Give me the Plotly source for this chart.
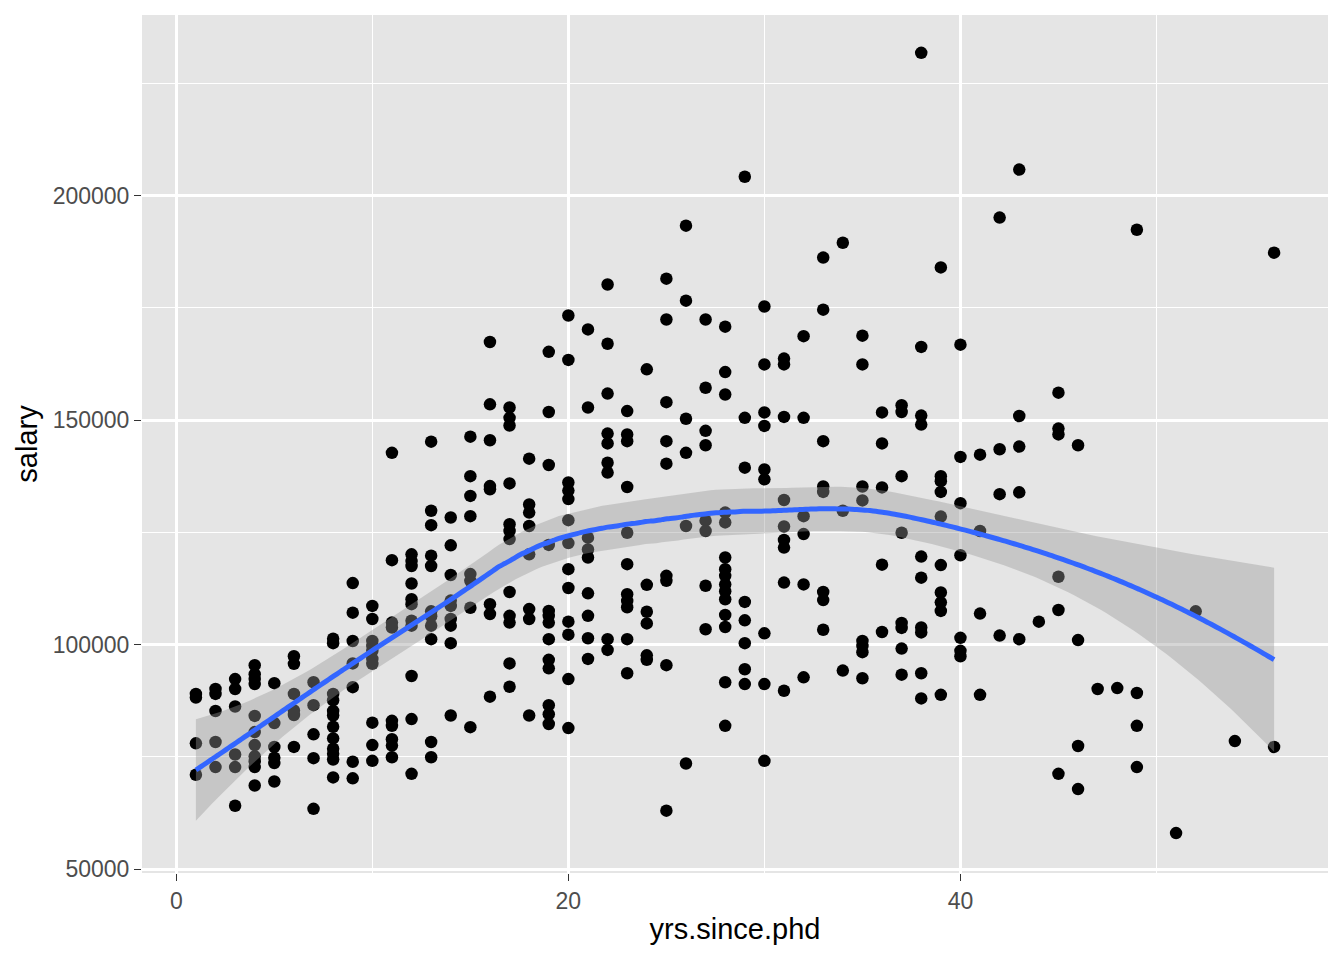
import numpy as np
import plotly.graph_objects as go

# Salary vs years since PhD (one line per year)
yrs_since_phd = (
    [1] * 4 + [2] * 5 + [3] * 6 + [4] * 11 + [5] * 6 + [6] * 6 + [7] * 5 + [8] * 12
    + [9] * 7 + [10] * 10 + [11] * 9 + [12] * 11 + [13] * 11 + [14] * 9 + [15] * 8
    + [16] * 8 + [17] * 12 + [18] * 8 + [19] * 13 + [20] * 13 + [21] * 9 + [22] * 9
    + [23] * 11 + [24] * 6 + [25] * 9 + [26] * 6 + [27] * 8 + [28] * 15 + [29] * 8
    + [30] * 9 + [31] * 9 + [32] * 6 + [33] * 8 + [34] * 3 + [35] * 8 + [36] * 5
    + [37] * 8 + [38] * 10 + [39] * 10 + [40] * 7 + [41] * 4 + [42] * 4 + [43] * 5
    + [44] * 1 + [45] * 6 + [46] * 4 + [47] * 1 + [48] * 1 + [49] * 4 + [51] * 1
    + [52] * 1 + [54] * 1 + [56] * 2
)

salary = [
    89000, 88200, 78000, 71000,
    90100, 89000, 85200, 78300, 72700,
    92300, 90100, 86200, 75500, 72700, 64100,
    95400, 93400, 92300, 91200, 84100, 80500, 77600, 75100, 74000, 72700, 68600,
    91400, 82500, 77200, 74800, 73600, 69500,
    97400, 95700, 89000, 85300, 84300, 77200,
    91600, 86500, 80000, 74700, 63400,
    101300, 100300, 89000, 87600, 85200, 84200, 81700, 79100, 76800, 75700, 74400, 70400,
    113700, 107100, 100800, 95800, 90500, 73900, 70200,
    108600, 105700, 100800, 99700, 98600, 96800, 95700, 82600, 77600, 74100,
    142700, 118800, 104900, 103800, 83000, 81900, 78900, 77500, 74900,
    120100, 118600, 117500, 113600, 110100, 109000, 105300, 104200, 93000, 83400, 71200,
    145200, 129800, 126600, 119800, 117500, 107400, 106300, 104200, 101200, 78300, 74900,
    128300, 122100, 115500, 109800, 108600, 105700, 104200, 100300, 84200,
    146300, 137500, 133100, 128600, 115700, 114200, 108200, 81600,
    167400, 153500, 145500, 135300, 134600, 109000, 106800, 88400,
    152800, 150500, 148800, 135900, 126800, 125300, 123500, 111700, 106400, 104900, 95800, 90600,
    141400, 131200, 129400, 126400, 120100, 107900, 105700, 84200,
    165200, 151800, 140000, 122200, 107500, 106400, 104900, 101200, 96600, 94700, 86500, 84500, 82300,
    173300, 163400, 136100, 134300, 132400, 127700, 122600, 116800, 112600, 105100, 102200, 92300, 81400,
    170200, 152800, 123800, 121200, 119400, 111400, 106400, 101400, 96800,
    180200, 167000, 155900, 147000, 144800, 140500, 138300, 101200, 98800,
    152000, 146800, 145300, 135100, 124900, 117900, 111200, 109700, 108300, 101200, 93600,
    161300, 113300, 107300, 104700, 97600, 96600,
    181500, 172400, 154000, 145300, 140300, 115300, 114200, 95400, 63000,
    193300, 176600, 150300, 142700, 126400, 73500,
    172400, 157200, 147600, 144400, 127600, 125300, 113100, 103400,
    170800, 160700, 155700, 129400, 127200, 119400, 116800, 115300, 113400, 111900, 110100,
    106600, 103900, 91600, 81900,
    204200, 150500, 139400, 109500, 105400, 100300, 94500, 91200,
    175300, 162400, 151700, 148700, 139000, 136800, 102500, 91200, 74100,
    163700, 162400, 150700, 132200, 126300, 123300, 121600, 113800, 89700,
    168700, 150500, 128600, 124600, 113400, 92700,
    186200, 174600, 145300, 135200, 134000, 111700, 109900, 103300,
    189500, 129800, 94200,
    168800, 162400, 135200, 132100, 100800, 99700, 98300, 92500,
    151700, 144800, 135000, 117800, 102800,
    153300, 151800, 137500, 124900, 104800, 103700, 99100, 93300,
    231800, 166300, 151000, 149000, 119600, 114900, 103800, 102700, 93600, 88000,
    184000, 137500, 136400, 134000, 128500, 117700, 111600, 109400, 107500, 88800,
    166800, 141800, 131500, 119900, 101500, 98600, 97400,
    142300, 125300, 106900, 88800,
    195100, 143500, 133500, 102000,
    205800, 150900, 144100, 133900, 101200,
    105100,
    156100, 148100, 146800, 115100, 107700, 71200,
    144400, 101000, 77400, 67800,
    90100,
    90300,
    192400, 89200, 81900, 72700,
    58000,
    107400,
    78500,
    187300, 77200,
]

x_ticks = [0, 20, 40]
y_ticks = [50000, 100000, 150000, 200000]


def loess_weights(x, x0, span=0.75):
    # local quadratic fit with tricube weights (like R's loess default)
    n = len(x)
    q = int(np.floor(n * span))
    d = np.abs(x - x0)
    h = np.sort(d)[q - 1]
    w = np.clip(1 - (d / h) ** 3, 0, None) ** 3
    X = np.column_stack([np.ones(n), x - x0, (x - x0) ** 2])
    XtW = X.T * w
    return np.linalg.solve(XtW @ X, XtW)[0]


x = np.array(yrs_since_phd, dtype=float)
y = np.array(salary, dtype=float)

L = np.array([loess_weights(x, xi) for xi in x])
resid = y - L @ y
M = (np.eye(len(x)) - L).T @ (np.eye(len(x)) - L)
one_delta = np.trace(M)
s = np.sqrt(np.sum(resid ** 2) / one_delta)

xs = np.linspace(x.min(), x.max(), 200)
ls = np.array([loess_weights(x, x0) for x0 in xs])
fit = ls @ y
se = s * np.sqrt(np.sum(ls ** 2, axis=1))
lo = fit - 1.966 * se
hi = fit + 1.966 * se

fig = go.Figure()

fig.add_trace(go.Scatter(x=x, y=y, mode='markers',
                         marker=dict(color='black', size=12.5, line=dict(width=0))))

fig.add_trace(go.Scatter(x=np.concatenate([xs, xs[::-1]]),
                         y=np.concatenate([hi, lo[::-1]]),
                         fill='toself', fillcolor='rgba(153,153,153,0.4)',
                         line=dict(width=0), mode='lines', hoverinfo='skip'))

fig.add_trace(go.Scatter(x=xs, y=fit, mode='lines', line_shape='spline',
                         line=dict(color='#3366FF', width=5)))

axis_common = dict(
    showline=False, zeroline=False, automargin=False,
    gridcolor='white', gridwidth=2.8,
    ticks='outside', ticklen=7, tickwidth=1.4, tickcolor='#333333',
    tickfont=dict(size=23, color='#4D4D4D'),
)

# page body adds an 8px offset, margins are shifted to compensate
fig.update_layout(
    width=1344, height=960,
    margin=dict(l=134, r=24, t=7, b=95),
    paper_bgcolor='white', plot_bgcolor='#E5E5E5',
    font=dict(family='Liberation Sans, Arial, sans-serif'),
    showlegend=False,
    xaxis=dict(axis_common, range=[-1.75, 58.75],
               tickvals=x_ticks, ticktext=[str(v) for v in x_ticks],
               minor=dict(tickvals=[10, 30, 50], showgrid=True, gridcolor='white',
                          gridwidth=1.4, ticks=''),
               title=dict(text='yrs.since.phd', font=dict(size=29, color='black'),
                          standoff=6)),
    yaxis=dict(axis_common, range=[49113, 240232],
               tickvals=y_ticks, ticktext=[str(v) for v in y_ticks],
               minor=dict(tickvals=[75000, 125000, 175000, 225000], showgrid=True,
                          gridcolor='white', gridwidth=1.4, ticks=''),
               title=dict(text='salary', font=dict(size=29, color='black'),
                          standoff=6)),
)

fig.write_html("out.html")
